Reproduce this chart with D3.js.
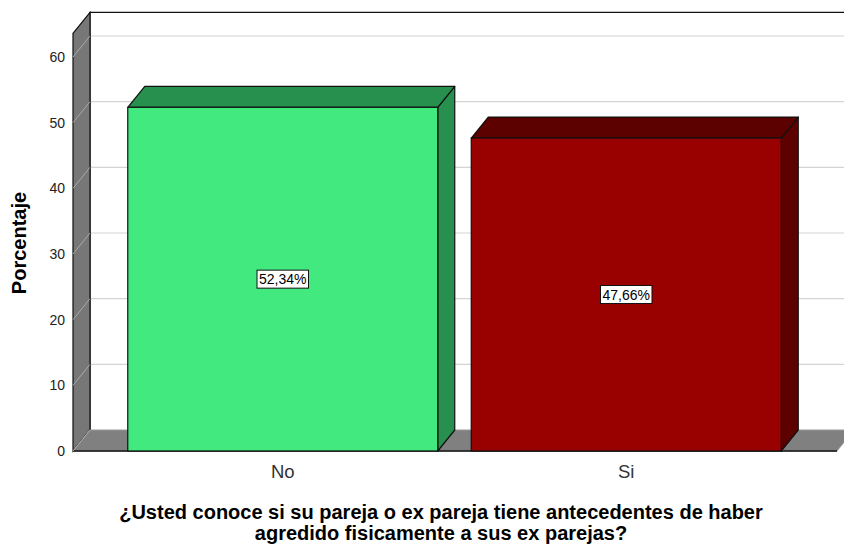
<!DOCTYPE html>
<html>
<head>
<meta charset="utf-8">
<script src="https://cdn.jsdelivr.net/npm/d3@7"></script>
<style>
  body { margin: 0; background: #fff; }
  svg { display: block; font-family: "Liberation Sans", Arial, sans-serif; }
</style>
</head>
<body>
<div id="container"></div>
<script>
// data
const categories = ["No", "Si"];
const values = [52.34, 47.66];
const valueLabels = ["52,34%", "47,66%"];
const yTicks = [0, 10, 20, 30, 40, 50, 60];
const yTitle = "Porcentaje";
const xTitle = ["¿Usted conoce si su pareja o ex pareja tiene antecedentes de haber", "agredido fisicamente a sus ex parejas?"];

const width = 844, height = 546;
const dx = 17, dy = -21; // 3d depth
const x0 = 73, x1 = 837;
const yMax = 63.6;

const front = ["#42e97f", "#990000"];
const dark = ["#27904e", "#5c0000"];

const svg = d3.select("#container").append("svg")
    .attr("width", width)
    .attr("height", height);

const y = d3.scaleLinear().domain([0, 60]).range([451, 57]);
const x = d3.scaleBand()
    .domain(categories)
    .range([111, 798])
    .paddingInner(0.0975)
    .paddingOuter(0.0488);

const poly = pts => "M" + pts.map(p => p.join(",")).join("L") + "Z";

// back wall gridlines
svg.selectAll(".grid").data(yTicks.filter(d => d > 0)).enter().append("line")
    .attr("x1", x0 + dx).attr("x2", width + 20)
    .attr("y1", d => y(d) + dy).attr("y2", d => y(d) + dy)
    .attr("stroke", "#d4d4d4").attr("stroke-width", 1.2);

// back wall top and left edges
svg.append("path")
    .attr("d", "M" + (x0 + dx) + "," + (y(0) + dy) + "L" + (x0 + dx) + "," + (y(yMax) + dy) + "L" + (width + 20) + "," + (y(yMax) + dy))
    .attr("fill", "none").attr("stroke", "#111").attr("stroke-width", 1.2);

// left wall
svg.append("path")
    .attr("d", poly([[x0, y(yMax)], [x0 + dx, y(yMax) + dy], [x0 + dx, y(0) + dy], [x0, y(0)]]))
    .attr("fill", "#777").attr("stroke", "#111").attr("stroke-width", 1.2);

svg.selectAll(".wgrid").data(yTicks.filter(d => d > 0)).enter().append("line")
    .attr("x1", x0).attr("x2", x0 + dx)
    .attr("y1", d => y(d)).attr("y2", d => y(d) + dy)
    .attr("stroke", "#aaa").attr("stroke-width", 1);

// floor
svg.append("path")
    .attr("d", poly([[x0, y(0)], [x0 + dx, y(0) + dy], [x1 + dx, y(0) + dy], [x1, y(0)]]))
    .attr("fill", "#808080").attr("stroke", "#999").attr("stroke-width", 1);
svg.append("line")
    .attr("x1", x0).attr("x2", x1).attr("y1", y(0)).attr("y2", y(0))
    .attr("stroke", "#111").attr("stroke-width", 1.5);
svg.append("line")
    .attr("x1", x0).attr("x2", x0 + dx).attr("y1", y(0)).attr("y2", y(0) + dy)
    .attr("stroke", "#aaa").attr("stroke-width", 1);

// y tick labels
svg.selectAll(".ytick").data(yTicks).enter().append("text")
    .attr("x", 65).attr("y", d => y(d) + 5)
    .attr("text-anchor", "end")
    .attr("font-size", 14).attr("fill", "#222")
    .text(d => d);

// bars
categories.forEach((c, i) => {
    const bx = x(c), bw = x.bandwidth(), top = y(values[i]), bot = y(0);
    const g = svg.append("g");
    g.append("path")
        .attr("d", poly([[bx + bw, top], [bx + bw + dx, top + dy], [bx + bw + dx, bot + dy], [bx + bw, bot]]))
        .attr("fill", dark[i]).attr("stroke", "#111").attr("stroke-width", 1.2).attr("stroke-linejoin", "round");
    g.append("path")
        .attr("d", poly([[bx, top], [bx + dx, top + dy], [bx + bw + dx, top + dy], [bx + bw, top]]))
        .attr("fill", dark[i]).attr("stroke", "#111").attr("stroke-width", 1.2).attr("stroke-linejoin", "round");
    g.append("rect")
        .attr("x", bx).attr("y", top).attr("width", bw).attr("height", bot - top)
        .attr("fill", front[i]).attr("stroke", "#111").attr("stroke-width", 1.2);

    // value label
    const cx = bx + bw / 2, cy = (top + bot) / 2;
    const t = g.append("text")
        .attr("x", cx).attr("y", cy + 5)
        .attr("text-anchor", "middle")
        .attr("font-size", 14).attr("fill", "#000")
        .text(valueLabels[i]);
    const bb = t.node().getBBox();
    g.insert("rect", "text")
        .attr("x", bb.x - 2).attr("y", bb.y - 1)
        .attr("width", bb.width + 4).attr("height", bb.height + 2)
        .attr("fill", "#fff").attr("stroke", "#111").attr("stroke-width", 1);

    // category label
    svg.append("text")
        .attr("x", cx).attr("y", 478)
        .attr("text-anchor", "middle")
        .attr("font-size", 18.5).attr("fill", "#333")
        .text(c);
});

// axis titles
svg.append("text")
    .attr("transform", "translate(26,243) rotate(-90)")
    .attr("text-anchor", "middle")
    .attr("font-size", 20).attr("font-weight", "bold").attr("fill", "#000")
    .text(yTitle);

svg.selectAll(".xtitle").data(xTitle).enter().append("text")
    .attr("x", 441).attr("y", (d, i) => 519 + i * 21)
    .attr("text-anchor", "middle")
    .attr("font-size", 20).attr("font-weight", "bold").attr("fill", "#000")
    .text(d => d);
</script>
</body>
</html>
